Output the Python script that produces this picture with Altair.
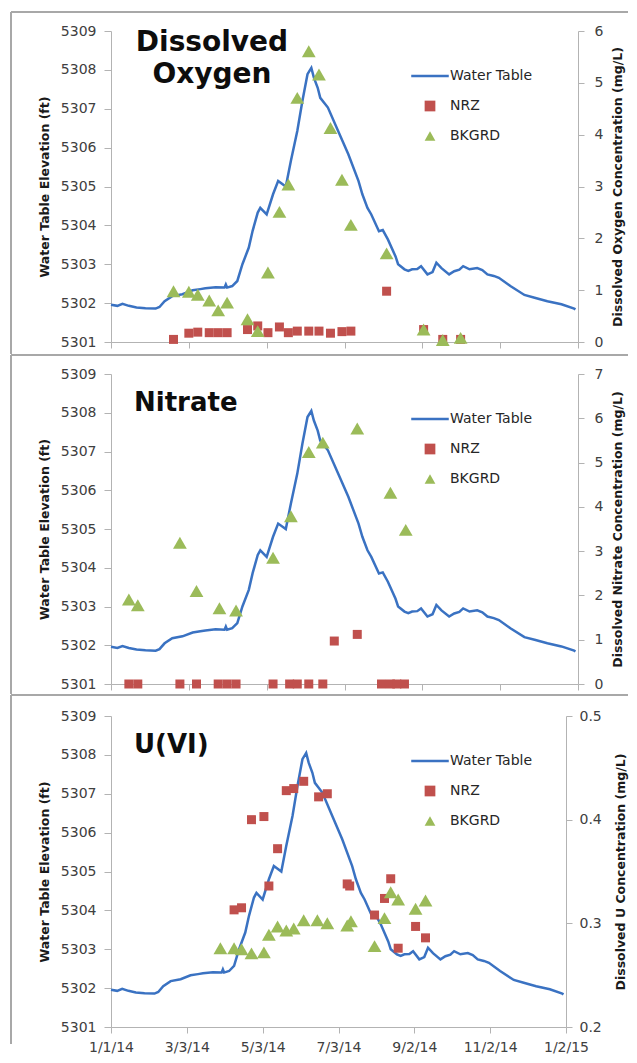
import altair as alt
import pandas as pd

# ---------------- data ----------------
SERIES = ["Water Table", "NRZ", "BKGRD"]

WT_DATES = ["2014-01-01", "2014-01-06", "2014-01-10", "2014-01-15", "2014-01-21", "2014-01-28",
            "2014-02-05", "2014-02-08", "2014-02-12", "2014-02-18", "2014-02-26", "2014-03-06",
            "2014-03-12", "2014-03-16", "2014-03-24", "2014-03-31", "2014-04-01", "2014-04-02",
            "2014-04-06", "2014-04-10", "2014-04-14", "2014-04-19", "2014-04-22", "2014-04-26",
            "2014-04-28", "2014-05-03", "2014-05-08", "2014-05-12", "2014-05-18", "2014-05-22",
            "2014-05-27", "2014-05-31", "2014-06-04", "2014-06-07", "2014-06-09", "2014-06-12",
            "2014-06-14", "2014-06-20", "2014-06-28", "2014-07-06", "2014-07-14", "2014-07-17",
            "2014-07-21", "2014-07-24", "2014-07-30", "2014-08-02", "2014-08-06", "2014-08-12",
            "2014-08-14", "2014-08-19", "2014-08-22", "2014-08-25", "2014-08-29", "2014-09-01",
            "2014-09-06", "2014-09-10", "2014-09-13", "2014-09-17", "2014-09-23", "2014-09-27",
            "2014-10-01", "2014-10-04", "2014-10-09", "2014-10-15", "2014-10-19", "2014-10-23",
            "2014-10-28", "2014-11-01", "2014-11-10", "2014-11-21", "2014-11-29", "2014-12-09",
            "2014-12-20", "2014-12-30", "2014-12-31"]
WT_ELEV = [5301.96, 5301.93, 5301.98, 5301.93, 5301.89, 5301.87,
           5301.86, 5301.90, 5302.05, 5302.18, 5302.23, 5302.33,
           5302.36, 5302.38, 5302.41, 5302.40, 5302.48, 5302.40,
           5302.44, 5302.57, 5303.00, 5303.43, 5303.86, 5304.33,
           5304.45, 5304.28, 5304.80, 5305.14, 5305.00, 5305.66,
           5306.43, 5307.20, 5307.89, 5308.05, 5307.80, 5307.54,
           5307.28, 5307.03, 5306.43, 5305.83, 5305.14, 5304.80,
           5304.45, 5304.28, 5303.85, 5303.88, 5303.64, 5303.20,
           5303.00, 5302.87, 5302.83, 5302.87, 5302.88, 5302.95,
           5302.74, 5302.80, 5303.04, 5302.90, 5302.74, 5302.82,
           5302.86, 5302.95, 5302.87, 5302.90, 5302.85, 5302.74,
           5302.70, 5302.65, 5302.44, 5302.21, 5302.14, 5302.05,
           5301.97, 5301.86, 5301.84]

DO_DATES = ["2014-02-19", "2014-03-03", "2014-03-10", "2014-03-19", "2014-03-26", "2014-04-02",
            "2014-04-18", "2014-04-26", "2014-05-04", "2014-05-13", "2014-05-20", "2014-05-27",
            "2014-06-05", "2014-06-13", "2014-06-22", "2014-07-01", "2014-07-08", "2014-08-05",
            "2014-09-03", "2014-09-18", "2014-10-02"]
DO_NRZ = [0.05, 0.17, 0.19, 0.18, 0.18, 0.18, 0.24, 0.31, 0.18, 0.29, 0.18, 0.21,
          0.21, 0.21, 0.17, 0.20, 0.21, 0.98, 0.24, 0.05, 0.05]
DO_BKGRD = [0.98, 0.97, 0.91, 0.80, 0.61, 0.76, 0.44, 0.21, 1.34, 2.51, 3.04, 4.71,
            5.61, 5.16, 4.13, 3.13, 2.26, 1.71, 0.24, 0.04, 0.08]

NO3_NRZ_DATES = ["2014-01-15", "2014-01-22", "2014-02-24", "2014-03-09", "2014-03-26", "2014-04-02",
                 "2014-04-09", "2014-05-08", "2014-05-21", "2014-05-27", "2014-06-05", "2014-06-16",
                 "2014-06-25", "2014-07-13", "2014-08-01", "2014-08-08", "2014-08-13", "2014-08-19"]
NO3_NRZ = [0, 0, 0, 0, 0, 0, 0, 0, 0, 0, 0, 0, 0.97, 1.12, 0, 0, 0, 0]
NO3_BKGRD_DATES = ["2014-01-15", "2014-01-22", "2014-02-24", "2014-03-09", "2014-03-27", "2014-04-09",
                   "2014-05-08", "2014-05-22", "2014-06-05", "2014-06-16", "2014-07-13", "2014-08-08",
                   "2014-08-20"]
NO3_BKGRD = [1.91, 1.78, 3.19, 2.10, 1.71, 1.66, 2.85, 3.79, 5.24, 5.45, 5.77, 4.32, 3.48]

U_NRZ_DATES = ["2014-04-10", "2014-04-16", "2014-04-24", "2014-05-04", "2014-05-08", "2014-05-15",
               "2014-05-22", "2014-05-28", "2014-06-05", "2014-06-17", "2014-06-24", "2014-07-10",
               "2014-07-12", "2014-08-01", "2014-08-09", "2014-08-14", "2014-08-20", "2014-09-03",
               "2014-09-11"]
U_NRZ = [0.313, 0.315, 0.400, 0.403, 0.336, 0.372, 0.428, 0.430, 0.437, 0.422, 0.425, 0.338,
         0.336, 0.308, 0.324, 0.343, 0.276, 0.297, 0.286]
U_BKGRD_DATES = ["2014-03-30", "2014-04-10", "2014-04-16", "2014-04-24", "2014-05-04", "2014-05-08",
                 "2014-05-15", "2014-05-22", "2014-05-28", "2014-06-05", "2014-06-16", "2014-06-24",
                 "2014-07-10", "2014-07-13", "2014-08-01", "2014-08-09", "2014-08-14", "2014-08-20",
                 "2014-09-03", "2014-09-11"]
U_BKGRD = [0.276, 0.276, 0.275, 0.271, 0.272, 0.289, 0.297, 0.293, 0.295, 0.303, 0.303, 0.300,
           0.298, 0.302, 0.278, 0.305, 0.330, 0.323, 0.314, 0.322]

X_TICKS = ["2014-01-01", "2014-03-03", "2014-05-03", "2014-07-03", "2014-09-02", "2014-11-02", "2015-01-02"]
X_LABELS = ["1/1/14", "3/3/14", "5/3/14", "7/3/14", "9/2/14", "11/2/14", "1/2/15"]
LEFT_TICKS = [5301, 5302, 5303, 5304, 5305, 5306, 5307, 5308, 5309]
DO_TICKS = [0, 1, 2, 3, 4, 5, 6]
NO3_TICKS = [0, 1, 2, 3, 4, 5, 6, 7]
U_TICKS = [0.2, 0.3, 0.4, 0.5]

# ---------------- styling ----------------
BLUE = "#3a72c2"
RED = "#c0504d"
GREEN = "#9bbb59"
AXIS = "#b3b3b3"
FRAME = "#a8a8a8"
FONT = "DejaVu Sans"
WT_SYMBOL = "M-3.5,-0.24L3.5,-0.24L3.5,0.24L-3.5,0.24Z"


def dt(s):
    y, m, d = (int(v) for v in s.split("-"))
    return alt.DateTime(year=y, month=m, date=d, utc=True)


def points_frame(nrz_dates, nrz, bk_dates, bk):
    return pd.concat([
        pd.DataFrame({"date": nrz_dates, "value": nrz, "series": "NRZ"}),
        pd.DataFrame({"date": bk_dates, "value": bk, "series": "BKGRD"}),
    ], ignore_index=True)


wt_df = pd.DataFrame({"date": WT_DATES, "elev": WT_ELEV})

# label lookup: tick date -> text of the reference
label_expr = ("{" + ",".join("'%s':'%s'" % (d, l) for d, l in zip(X_TICKS, X_LABELS)) +
              "}[utcFormat(datum.value, '%Y-%m-%d')]")


def panel(pts_df, title, title_size, title_x, title_y, title_align, right_title,
          rdomain, rticks, rformat, width, height, frame, show_labels, rlabel_pad, rtitle_pad):
    x = alt.X("date:T",
              scale=alt.Scale(type="utc", domain=[dt(X_TICKS[0]), dt(X_TICKS[-1])]),
              axis=alt.Axis(values=[dt(v) for v in X_TICKS], labels=show_labels,
                            labelExpr=label_expr, title=None,
                            tickSize=6, labelPadding=7, labelFlush=False, labelOverlap=False))
    line = alt.Chart(wt_df).mark_line(color=BLUE, strokeWidth=2.5).encode(
        x=x,
        y=alt.Y("elev:Q", scale=alt.Scale(domain=[5301, 5309], nice=False, zero=False),
                axis=alt.Axis(values=LEFT_TICKS, format="d", title="Water Table Elevation (ft)",
                              tickSize=7, labelPadding=8, titlePadding=9, labelFlush=False)),
    )
    leg = alt.Legend(orient="none", legendX=312, legendY=38, title=None, labelFontSize=14,
                     labelFont=FONT, labelColor="#262626", symbolSize=115, rowPadding=16,
                     labelOffset=13, padding=0, symbolStrokeWidth=0, symbolOpacity=1)
    pts = alt.Chart(pts_df).mark_point(filled=True, opacity=1, strokeWidth=0).encode(
        x=x,
        y=alt.Y("value:Q", scale=alt.Scale(domain=rdomain, nice=False, zero=False),
                axis=alt.Axis(orient="right", values=rticks, format=rformat, title=right_title,
                              titleAngle=270, titleBaseline="top", tickSize=6,
                              labelPadding=rlabel_pad, titlePadding=rtitle_pad, labelFlush=False)),
        color=alt.Color("series:N", scale=alt.Scale(domain=SERIES, range=[BLUE, RED, GREEN]), legend=leg),
        shape=alt.Shape("series:N", scale=alt.Scale(domain=SERIES, range=[WT_SYMBOL, "square", "triangle-up"]),
                        legend=leg),
        size=alt.condition("datum.series == 'NRZ'", alt.value(81), alt.value(190)),
    )
    txt = alt.Chart(pd.DataFrame({"t": [title]})).mark_text(
        font=FONT, fontWeight="bold", fontSize=title_size, align=title_align, baseline="alphabetic",
        lineBreak="\n", lineHeight=32, color="#0d0d0d",
    ).encode(x=alt.value(title_x), y=alt.value(title_y), text="t:N")
    fx1, fx2, fy1, fy2 = frame
    one = pd.DataFrame({"k": [0]})
    top_rule = alt.Chart(one).mark_rule(color=FRAME, strokeWidth=2).encode(
        x=alt.value(fx1), x2=alt.value(fx2), y=alt.value(fy1))
    left_rule = alt.Chart(one).mark_rule(color=FRAME, strokeWidth=2).encode(
        x=alt.value(fx1), y=alt.value(fy1), y2=alt.value(fy2))
    return alt.layer(top_rule, left_rule, line, pts, txt).resolve_scale(y="independent").properties(
        width=width, height=height)


p1 = panel(points_frame(DO_DATES, DO_NRZ, DO_DATES, DO_BKGRD), "Dissolved\nOxygen", 28, 101, 20, "center",
           "Dissolved Oxygen Concentration (mg/L)", [0, 6], DO_TICKS, "d", 467, 311,
           (-100, 517, -19, 323), False, 10, 9)
p2 = panel(points_frame(NO3_NRZ_DATES, NO3_NRZ, NO3_BKGRD_DATES, NO3_BKGRD), "Nitrate", 26, 23, 37, "left",
           "Dissolved Nitrate Concentration (mg/L)", [0, 7], NO3_TICKS, "d", 467, 310,
           (-100, 517, -19, 320), False, 10, 9)
p3 = panel(points_frame(U_NRZ_DATES, U_NRZ, U_BKGRD_DATES, U_BKGRD), "U(VI)", 26, 23, 37, "left",
           "Dissolved U Concentration (mg/L)", [0.2, 0.5], U_TICKS, ".1f", 455, 311,
           (-100, 517, -21, 328), True, 7, 13)

chart = alt.vconcat(p1, p2, p3, spacing=32, bounds="flush").resolve_scale(
    x="independent", color="independent", shape="independent"
).properties(
    padding={"left": 2, "top": 3, "right": 0, "bottom": 0}
).configure_view(stroke=None).configure_axis(
    domainColor=AXIS, tickColor=AXIS, grid=False,
    labelFont=FONT, labelFontSize=14, labelColor="#404040",
    titleFont=FONT, titleFontSize=12.5, titleFontWeight="bold", titleColor="#1a1a1a",
)

chart.save("out.html", embed_options={"renderer": "svg", "actions": False})
